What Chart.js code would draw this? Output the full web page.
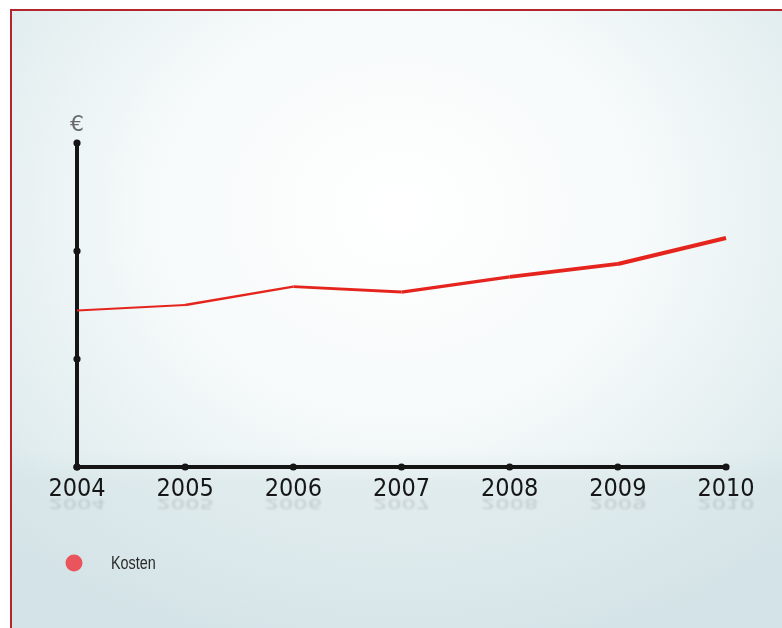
<!DOCTYPE html>
<html>
<head>
<meta charset="utf-8">
<script src="https://cdn.jsdelivr.net/npm/chart.js@4.4.0/dist/chart.umd.min.js"></script>
<style>
  html, body { margin: 0; padding: 0; background: #fff; }
  #wrap { position: relative; width: 782px; height: 628px; overflow: hidden; }
  #rahmen {
    position: absolute; left: 10px; top: 9px; right: -4px; bottom: -4px;
    border-top: 2px solid #b3262e; border-left: 2px solid #b3262e;
    background:
      linear-gradient(to bottom, rgba(255,255,255,0) 0%, rgba(255,255,255,0) 71%, rgba(214,228,231,0.55) 76%, rgba(205,222,226,0.35) 100%),
      radial-gradient(ellipse 70% 75% at 50% 32%, #ffffff 0%, #f6fafa 45%, #e3eef0 80%, #d6e5e8 100%);
  }
  #chartBox { position: absolute; left: 0; top: 0; width: 782px; height: 628px; }
</style>
</head>
<body>
<div id="wrap">
  <div id="rahmen"></div>
  <div id="chartBox"><canvas id="graficaKosten"></canvas></div>
</div>
<script>
// Daten
const jahre = ["2004", "2005", "2006", "2007", "2008", "2009", "2010"];
const kosten = [1.45, 1.5, 1.67, 1.62, 1.76, 1.88, 2.12];
const yTicks = [0, 1, 2, 3];

// Punkte auf den Achsen, Euro-Zeichen, Spiegelung und Legende
const achsenDeko = {
  id: 'achsenDeko',
  afterDraw(chart) {
    const ctx = chart.ctx;
    const x = chart.scales.x;
    const y = chart.scales.y;
    ctx.save();
    ctx.fillStyle = '#151515';
    yTicks.forEach(v => {
      ctx.beginPath();
      ctx.arc(x.left, y.getPixelForValue(v), 3.6, 0, 2 * Math.PI);
      ctx.fill();
    });
    x.ticks.forEach((t, i) => {
      ctx.beginPath();
      ctx.arc(x.getPixelForTick(i), y.bottom, 3.6, 0, 2 * Math.PI);
      ctx.fill();
    });

    // Euro
    ctx.fillStyle = '#6a6a6a';
    ctx.font = '22px "DejaVu Sans"';
    ctx.textAlign = 'center';
    ctx.textBaseline = 'middle';
    ctx.fillText('€', x.left, y.top - 18);

    // Spiegelung der Jahreszahlen (schwach, unscharf)
    ctx.font = '25px "DejaVu Sans Condensed"';
    ctx.textBaseline = 'alphabetic';
    ctx.filter = 'blur(1.2px)';
    const grundlinie = y.bottom + 32;
    x.ticks.forEach((t, i) => {
      const px = x.getPixelForTick(i);
      ctx.save();
      ctx.translate(px, grundlinie);
      ctx.scale(1, -0.55);
      const grad = ctx.createLinearGradient(0, 0, 0, 18);
      grad.addColorStop(0, 'rgba(40,40,40,0.16)');
      grad.addColorStop(1, 'rgba(40,40,40,0)');
      ctx.fillStyle = grad;
      ctx.fillText(jahre[i], 0, 0);
      ctx.restore();
    });
    ctx.filter = 'none';

    // Legende
    chart.data.datasets.forEach((ds, i) => {
      const ly = 563 + i * 30;
      ctx.beginPath();
      ctx.arc(74, ly, 8.5, 0, 2 * Math.PI);
      ctx.fillStyle = '#ea545c';
      ctx.fill();
      ctx.save();
      ctx.translate(111, ly + 1);
      ctx.scale(0.8, 1);
      ctx.fillStyle = '#2a2a2a';
      ctx.font = '18px "Liberation Sans"';
      ctx.textAlign = 'left';
      ctx.textBaseline = 'middle';
      ctx.fillText(ds.label, 0, 0);
      ctx.restore();
    });
    ctx.restore();
  }
};

const ctx = document.getElementById('graficaKosten').getContext('2d');
new Chart(ctx, {
  type: 'line',
  data: {
    labels: jahre,
    datasets: [{
      label: 'Kosten',
      data: kosten,
      borderColor: '#e5251d',
      borderWidth: 2,
      tension: 0,
      pointRadius: 0,
      fill: false,
      segment: {
        borderWidth: c => 2 + c.p0DataIndex * 0.45
      }
    }]
  },
  options: {
    responsive: true,
    maintainAspectRatio: false,
    animation: false,
    layout: { padding: { left: 77, right: 56, top: 143, bottom: 117 } },
    scales: {
      x: {
        offset: false,
        z: 1,
        grid: { display: false, drawTicks: false },
        border: { display: true, color: '#151515', width: 4 },
        ticks: {
          padding: 7,
          color: '#161616',
          font: { family: '"DejaVu Sans Condensed"', size: 25 },
          maxRotation: 0,
          autoSkip: false
        }
      },
      y: {
        min: 0,
        max: 3,
        z: 1,
        grid: { display: false, drawTicks: false },
        border: { display: true, color: '#151515', width: 4 },
        ticks: { display: false, stepSize: 1 }
      }
    },
    plugins: {
      legend: { display: false },
      tooltip: { enabled: false }
    }
  },
  plugins: [achsenDeko]
});
</script>
</body>
</html>
